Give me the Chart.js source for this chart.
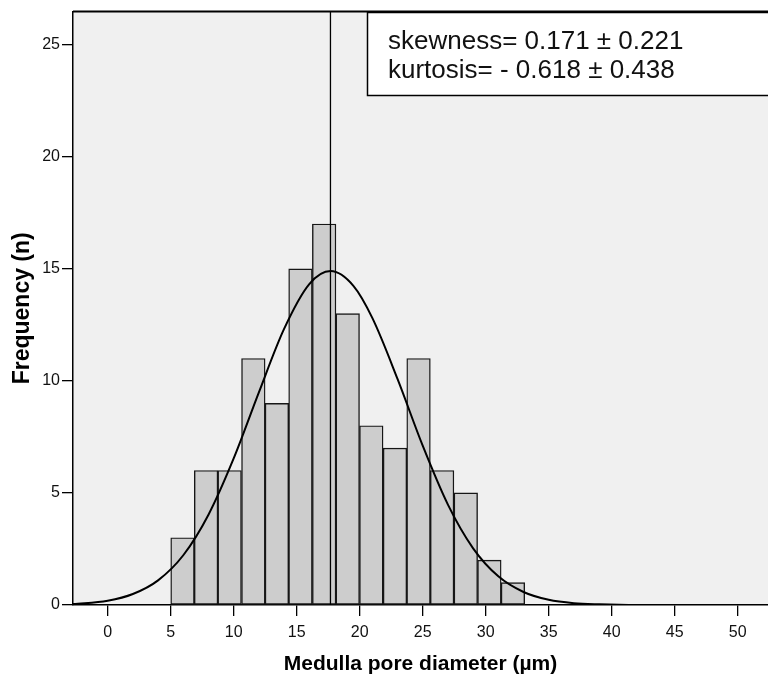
<!DOCTYPE html>
<html>
<head>
<meta charset="utf-8">
<script src="https://cdn.jsdelivr.net/npm/chart.js@4.4.1/dist/chart.umd.min.js"></script>
<style>
  html, body { margin: 0; padding: 0; background: #fff; }
  #wrap { width: 768px; height: 683px; }
</style>
</head>
<body>
<div id="wrap"><canvas id="hist" width="768" height="683"></canvas></div>
<script>
// 直方圖資料
const binCenters = [5.94, 7.81, 9.68, 11.56, 13.43, 15.30, 17.18, 19.05, 20.92, 22.80, 24.67, 26.54, 28.42, 30.29, 32.16];
const frequencies = [3, 6, 6, 11, 9, 15, 17, 13, 8, 7, 11, 6, 5, 2, 1];

// 常態曲線
const curveX = [-2.75, 0, 2, 4, 6, 8, 10, 12, 14, 16, 17.7, 19.5, 21, 23, 25, 27, 29, 31, 33, 35, 37, 39, 42, 46, 52.4];
const curveY = [0.04, 0.19, 0.49, 1.1, 2.22, 4.03, 6.54, 9.49, 12.32, 14.32, 14.9, 14.24, 12.81, 10.09, 7.11, 4.48, 2.53, 1.28, 0.58, 0.23, 0.08, 0.03, 0, 0, 0];

// 平均值線
const meanValue = 17.68;

// 座標軸
const xTicks = [0, 5, 10, 15, 20, 25, 30, 35, 40, 45, 50];
const yTicks = [0, 5, 10, 15, 20, 25];
const xRange = [-2.75, 52.4];
const yRange = [0, 26.48];

const statsLines = ["skewness= 0.171 \u00b1 0.221", "kurtosis= - 0.618 \u00b1 0.438"];

const FONT = "'Liberation Sans', Arial, sans-serif";
Chart.defaults.font.family = FONT;
Chart.defaults.color = "#000";

// 背景 + 框線 + 文字框
const plotDeco = {
  id: "plotDeco",
  beforeDraw(chart) {
    const { ctx, chartArea: a } = chart;
    ctx.save();
    ctx.fillStyle = "#f0f0f0";
    ctx.fillRect(a.left, a.top, a.right - a.left, a.bottom - a.top);
    ctx.restore();
  },
  afterDraw(chart) {
    const { ctx, chartArea: a } = chart;
    ctx.save();
    ctx.strokeStyle = "#000";
    ctx.lineWidth = 2;
    ctx.beginPath();
    ctx.moveTo(a.left, a.top);
    ctx.lineTo(a.right, a.top);
    ctx.stroke();
    // 統計文字框
    const bx = 367.5, by = 12.5, bh = 83;
    ctx.fillStyle = "#fff";
    ctx.fillRect(bx, by, a.right + 5 - bx, bh);
    ctx.lineWidth = 1.5;
    ctx.strokeRect(bx, by, a.right + 5 - bx, bh);
    ctx.fillStyle = "#111";
    ctx.font = "26px " + FONT;
    ctx.textBaseline = "alphabetic";
    ctx.fillText(statsLines[0], 388, 49);
    ctx.fillText(statsLines[1], 388, 77.5);
    ctx.restore();
  },
};

new Chart(document.getElementById("hist"), {
  type: "bar",
  data: {
    datasets: [
      {
        type: "line",
        label: "mean",
        data: [{ x: meanValue, y: yRange[0] }, { x: meanValue, y: yRange[1] }],
        borderColor: "#000",
        borderWidth: 1.3,
        pointRadius: 0,
        order: 0,
      },
      {
        type: "line",
        label: "normal",
        data: curveX.map((x, i) => ({ x: x, y: curveY[i] })),
        borderColor: "#000",
        borderWidth: 2,
        pointRadius: 0,
        cubicInterpolationMode: "monotone",
        order: 1,
      },
      {
        type: "bar",
        label: "freq",
        data: binCenters.map((x, i) => ({ x: x, y: frequencies[i] })),
        backgroundColor: "#cdcdcd",
        borderColor: "#161616",
        borderWidth: 1.4,
        borderSkipped: false,
        barPercentage: 1,
        categoryPercentage: 1,
        order: 2,
      },
    ],
  },
  options: {
    responsive: false,
    animation: false,
    layout: { padding: { top: 10, right: 0, left: 0, bottom: 0 } },
    plugins: { legend: { display: false }, tooltip: { enabled: false } },
    scales: {
      x: {
        type: "linear",
        min: xRange[0],
        max: xRange[1],
        offset: false,
        afterBuildTicks: (s) => { s.ticks = xTicks.map((v) => ({ value: v })); },
        afterFit: (s) => { s.height = 78; },
        border: { display: true, color: "#000", width: 1.5 },
        grid: { display: true, offset: false, drawOnChartArea: false, drawTicks: true, tickLength: 11, color: "#000", lineWidth: 1.3 },
        ticks: { font: { size: 16 }, color: "#111", padding: 7, maxRotation: 0 },
        title: {
          display: true,
          text: "Medulla pore diameter (\u00b5m)",
          font: { size: 21, weight: "bold" },
          color: "#000",
          padding: { top: 0, bottom: 6 },
        },
      },
      y: {
        min: yRange[0],
        max: yRange[1],
        afterBuildTicks: (s) => { s.ticks = yTicks.map((v) => ({ value: v })); },
        afterFit: (s) => { s.width = 73; },
        border: { display: true, color: "#000", width: 1.5 },
        grid: { display: true, drawOnChartArea: false, drawTicks: true, tickLength: 11, color: "#000", lineWidth: 1.3 },
        ticks: { font: { size: 16 }, color: "#111", padding: 2 },
        title: {
          display: true,
          text: "Frequency (n)",
          font: { size: 23, weight: "bold" },
          color: "#000",
          padding: { top: 9, bottom: 0 },
        },
      },
    },
  },
  plugins: [plotDeco],
});
</script>
</body>
</html>
